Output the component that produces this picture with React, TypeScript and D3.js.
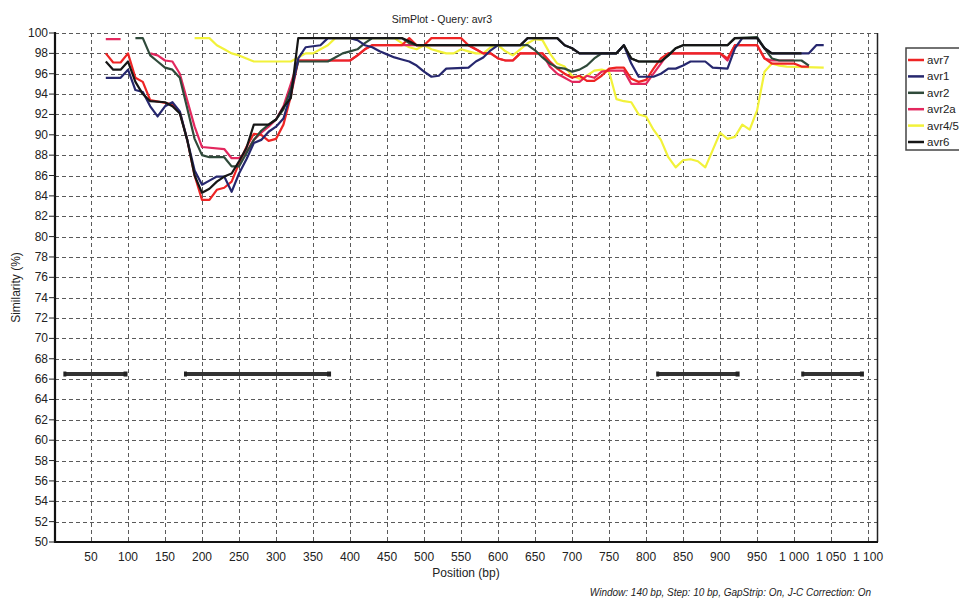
import React from "react";
import * as d3 from "d3";

type Pt = [number, number | null];

// Similarity (%) against position (bp), one array per reference sequence
const avr7: Pt[] = [
  [70, 98], [80, 97.1], [90, 97.1], [100, 98], [110, 95.6], [120, 95.2], [130, 93.4], [160, 93],
  [170, 92.2], [180, 89.5], [190, 86], [200, 83.6], [210, 83.6], [220, 84.6], [230, 84.8], [240, 85.4],
  [250, 87.2], [260, 88.8], [270, 90.1], [280, 90], [290, 89.4], [300, 89.6], [310, 91], [320, 93.8],
  [330, 97.3], [400, 97.3], [410, 97.8], [420, 98.4], [430, 98.8], [470, 98.8], [480, 99.5], [490, 98.8],
  [500, 98.8], [510, 99.5], [550, 99.5], [560, 98.8], [570, 98.4], [580, 98], [590, 98], [600, 97.5],
  [610, 97.3], [620, 97.3], [630, 98], [660, 98], [670, 97.2], [680, 96.5], [690, 96], [700, 95.6],
  [710, 95.8], [720, 95.3], [730, 95.3], [740, 95.8], [750, 96.5], [760, 96.6], [770, 96.6], [780, 95.5],
  [790, 95.2], [800, 95.4], [810, 96.5], [820, 97.5], [830, 98], [900, 98], [910, 97.5], [920, 98.8],
  [950, 98.8], [960, 97.5], [970, 97], [1000, 97], [1010, 96.7], [1020, 96.7],
];

const avr1: Pt[] = [
  [70, 95.6], [90, 95.6], [100, 96.4], [110, 94.4], [120, 94.2], [130, 92.8], [140, 91.8], [150, 92.8],
  [160, 93.2], [170, 92.3], [180, 89.5], [190, 86.5], [200, 85.1], [210, 85.5], [220, 85.9], [230, 85.9],
  [240, 84.4], [250, 86.2], [260, 87.6], [270, 89.2], [280, 89.5], [290, 90.3], [300, 90.8], [310, 91.6],
  [320, 94], [330, 97.5], [340, 98.6], [360, 98.8], [370, 99.5], [400, 99.5], [410, 99.3], [420, 98.8],
  [430, 98.6], [440, 98.2], [450, 97.9], [460, 97.6], [470, 97.4], [480, 97.2], [490, 96.8], [500, 96.2],
  [510, 95.7], [520, 95.8], [530, 96.5], [560, 96.6], [570, 97.2], [580, 97.6], [590, 98.3], [600, 98.8],
  [630, 98.8], [640, 99.5], [680, 99.5], [690, 98.8], [700, 98.5], [710, 98], [760, 98], [770, 98.8],
  [780, 97], [790, 95.7], [810, 95.7], [820, 96], [830, 96.5], [840, 96.5], [850, 96.8], [860, 97.2],
  [880, 97.2], [890, 96.6], [910, 96.5], [920, 98.5], [930, 99.5], [950, 99.5], [960, 98.5], [970, 98],
  [1020, 98], [1030, 98.8], [1040, 98.8],
];

const avr2: Pt[] = [
  [110, 99.5], [120, 99.5], [130, 97.8], [140, 97.2], [150, 96.6], [160, 96.4], [170, 95.6], [180, 92.6],
  [190, 89.6], [200, 88], [210, 87.8], [230, 87.8], [240, 86.9], [250, 86.9], [260, 88.2], [270, 89.5],
  [280, 90.4], [290, 91], [300, 91.5], [310, 92.5], [320, 94.5], [330, 97.2], [370, 97.2], [380, 97.6],
  [390, 98], [400, 98.2], [410, 98.4], [420, 99], [430, 99.5], [470, 99.5], [480, 99], [490, 98.8],
  [640, 98.8], [650, 98.3], [660, 97.6], [670, 97], [680, 96.6], [690, 96.5], [700, 96.2], [710, 96.4],
  [720, 96.8], [730, 97.5], [740, 98], [760, 98], [770, 98.8], [780, 97.5], [790, 97.2], [820, 97.2],
  [830, 97.8], [840, 98.5], [850, 98.8], [910, 98.8], [920, 99.5], [950, 99.6], [960, 98.5], [970, 97.5],
  [980, 97.3], [1010, 97.3], [1020, 96.8],
];

const avr2a: Pt[] = [
  [70, 99.4], [90, 99.4], [100, null], [130, 98], [140, 97.8], [150, 97.3], [160, 97.2], [170, 96],
  [180, 93.4], [190, 90.8], [200, 88.8], [230, 88.6], [240, 87.7], [250, 87.7], [260, 88.3], [270, 89.5],
  [280, 90.2], [290, 90.8], [300, 91.5], [310, 92.8], [320, 95], [330, 97.3], [400, 97.3], [410, 97.8],
  [420, 98.4], [430, 98.8], [560, 98.8], [570, 98.4], [580, 98], [590, 98], [600, 97.5], [610, 97.3],
  [620, 97.3], [630, 98], [660, 98], [670, 96.7], [680, 96], [690, 95.6], [700, 95.2], [710, 95.2],
  [720, 95.8], [730, 95.6], [740, 96.2], [750, 96.3], [770, 96.3], [780, 95], [800, 95], [810, 96],
  [820, 97], [830, 98], [900, 98], [910, 97.3], [920, 98.8], [950, 98.8], [960, 97.5], [970, 97.3],
  [1000, 97.3],
];

const avr45: Pt[] = [
  [190, 99.5], [210, 99.5], [220, 98.8], [230, 98.4], [240, 98], [250, 97.8], [260, 97.5], [270, 97.2],
  [320, 97.2], [330, 97.6], [340, 98], [350, 98], [360, 98.4], [370, 98.8], [380, 99.5], [460, 99.5],
  [470, 99], [480, 98.6], [490, 98.4], [500, 98.8], [510, 98.4], [520, 98.2], [530, 98], [540, 98],
  [550, 98.4], [560, 98.2], [570, 98], [580, 98], [590, 98.6], [600, 98.8], [610, 98.2], [620, 97.8],
  [630, 98.4], [640, 99], [650, 99.4], [660, 99.3], [670, 98], [680, 97], [690, 96.7], [700, 95.8],
  [710, 95.5], [720, 95.8], [730, 96.3], [740, 96.4], [750, 96.2], [760, 93.5], [770, 93.3], [780, 93.2],
  [790, 92], [800, 91.8], [810, 90.5], [820, 89.5], [830, 87.8], [840, 86.8], [850, 87.5], [860, 87.6],
  [870, 87.4], [880, 86.8], [890, 88.5], [900, 90.2], [910, 89.6], [920, 89.8], [930, 91], [940, 90.5],
  [950, 92.4], [960, 96.2], [970, 97], [980, 96.8], [990, 96.7], [1040, 96.6],
];

const avr6: Pt[] = [
  [70, 97.2], [80, 96.4], [90, 96.4], [100, 97.2], [110, 95.2], [120, 94], [130, 93.3], [150, 93.2],
  [160, 92.8], [170, 92.1], [180, 89.5], [190, 86], [200, 84.3], [210, 84.7], [220, 85.4], [230, 85.9],
  [240, 86.2], [250, 87.4], [260, 88.7], [270, 91], [290, 91], [300, 91.5], [310, 92.7], [320, 93.6],
  [330, 99.5], [470, 99.5], [480, 99.2], [490, 98.8], [630, 98.8], [640, 99.5], [680, 99.5], [690, 98.8],
  [700, 98.5], [710, 98], [760, 98], [770, 98.8], [780, 97.5], [790, 97.2], [820, 97.2], [830, 97.8],
  [840, 98.5], [850, 98.8], [910, 98.8], [920, 99.5], [950, 99.5], [960, 98.5], [970, 98], [1010, 98],
];

const seriesNames = ["avr7", "avr1", "avr2", "avr2a", "avr4/5", "avr6"];
const seriesColors = ["#ee2424", "#26276e", "#2f4a3a", "#e3285e", "#f2f23a", "#161616"];
const seriesData = [avr7, avr1, avr2, avr2a, avr45, avr6];
// painting order (index into the arrays above)
const drawOrder = [4, 3, 0, 2, 1, 5];

// GapStrip segments [start bp, end bp] drawn at a fixed similarity level
const gapStrips: [number, number][] = [[14, 98], [177, 373], [815, 925], [1011, 1093]];
const gapLevel = 66.5;

const xTicks = [50, 100, 150, 200, 250, 300, 350, 400, 450, 500, 550, 600, 650, 700, 750, 800, 850, 900, 950, 1000, 1050, 1100];
const yTicks = d3.range(50, 101, 2);

const W = 959;
const H = 599;
const left = 55;
const right = 877;
const top = 33;
const bottom = 542;

const FONT = "'Liberation Sans', Arial, sans-serif";

const fmtX = (v: number) => {
  const s = String(v);
  return s.length > 3 ? s.slice(0, s.length - 3) + " " + s.slice(s.length - 3) : s;
};

export default function App() {
  const x = d3.scaleLinear().domain([0, 1112]).range([54, right]);
  const y = d3.scaleLinear().domain([50, 100]).range([bottom, top]);

  const line = d3
    .line<Pt>()
    .defined((d) => d[1] !== null)
    .x((d) => x(d[0]))
    .y((d) => y(d[1] as number));

  return (
    <svg
      width={W}
      height={H}
      style={{ position: "absolute", left: 0, top: 0, background: "#fff" }}
      fontFamily={FONT}
    >
      <rect x={0} y={0} width={W} height={H} fill="#fff" />

      {/* grid */}
      <g stroke="#5a5a5a" strokeWidth={1} strokeDasharray="4,3" fill="none">
        {yTicks.map((t) => (
          <line key={"h" + t} x1={left} x2={right} y1={Math.round(y(t)) + 0.5} y2={Math.round(y(t)) + 0.5} />
        ))}
        {xTicks.map((t) => (
          <line key={"v" + t} x1={Math.round(x(t)) + 0.5} x2={Math.round(x(t)) + 0.5} y1={top} y2={bottom} />
        ))}
      </g>

      {/* frame */}
      <line x1={right + 0.5} x2={right + 0.5} y1={top} y2={bottom} stroke="#222" strokeWidth={1.5} />
      <line x1={left} x2={left} y1={top - 1} y2={bottom + 1} stroke="#111" strokeWidth={2.2} />
      <line x1={left} x2={right + 1} y1={bottom} y2={bottom} stroke="#111" strokeWidth={2} />

      {/* y axis */}
      <g fontSize={12} fill="#222">
        {yTicks.map((t) => (
          <g key={"yt" + t}>
            <line x1={49} x2={left} y1={y(t)} y2={y(t)} stroke="#222" strokeWidth={1} />
            <text x={48} y={y(t) + 4} textAnchor="end">
              {t}
            </text>
          </g>
        ))}
      </g>

      {/* x axis */}
      <g fontSize={12} fill="#222">
        {xTicks.map((t) => (
          <text key={"xt" + t} x={x(t)} y={561} textAnchor="middle">
            {fmtX(t)}
          </text>
        ))}
      </g>

      <text x={466} y={577} textAnchor="middle" fontSize={12} fill="#222">
        Position (bp)
      </text>
      <text
        transform={`translate(20,${(top + bottom) / 2}) rotate(-90)`}
        textAnchor="middle"
        fontSize={12}
        fill="#222"
      >
        Similarity (%)
      </text>
      <text x={442} y={23} textAnchor="middle" fontSize={10.5} fill="#222">
        SimPlot - Query: avr3
      </text>
      <text x={871} y={596} textAnchor="end" fontSize={10} fontStyle="italic" fill="#222">
        Window: 140 bp, Step: 10 bp, GapStrip: On, J-C Correction: On
      </text>

      {/* GapStrip bars */}
      <g>
        {gapStrips.map(([a, b], i) => (
          <g key={"gs" + i}>
            <line x1={x(a)} x2={x(b)} y1={y(gapLevel)} y2={y(gapLevel)} stroke="#333" strokeWidth={4} />
            <rect x={x(b) - 3} y={y(gapLevel) - 2.5} width={4} height={5} fill="#222" />
            <rect x={x(a) - 1} y={y(gapLevel) - 2.5} width={3} height={5} fill="#222" />
          </g>
        ))}
      </g>

      {/* similarity curves */}
      <g fill="none" strokeWidth={2.2} strokeLinejoin="round">
        {drawOrder.map((i) => (
          <path key={seriesNames[i]} d={line(seriesData[i]) || ""} stroke={seriesColors[i]} />
        ))}
      </g>

      {/* legend */}
      <g>
        <rect x={906} y={48} width={70} height={102} fill="#fff" stroke="#444" strokeWidth={1.5} />
        {seriesNames.map((n, i) => {
          const cy = 60 + i * 16.4;
          return (
            <g key={"lg" + n}>
              <line x1={908} x2={924} y1={cy} y2={cy} stroke={seriesColors[i]} strokeWidth={2.5} />
              <text x={927} y={cy + 4} fontSize={11.5} fill="#222">
                {n}
              </text>
            </g>
          );
        })}
      </g>
    </svg>
  );
}
